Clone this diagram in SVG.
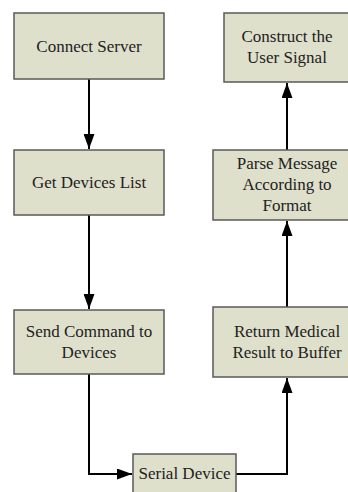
<svg xmlns="http://www.w3.org/2000/svg" width="348" height="492" viewBox="0 0 348 492">
<defs>
<style>
.box{fill:#dfe0cb;stroke:#5a5a5a;stroke-width:1.5}
.c{fill:none;stroke:#000;stroke-width:2}
</style>
<marker id="ah" markerWidth="15" markerHeight="11" refX="15" refY="5.5" orient="auto" markerUnits="userSpaceOnUse" viewBox="0 0 15 11">
<path d="M0,0 L15,5.5 L0,11 Z" fill="#000"/>
</marker>
</defs>
<rect width="348" height="492" fill="#fff"/>
<g id="connectors">
<path class="c" d="M89,79 V149" marker-end="url(#ah)"/>
<path class="c" d="M89,215 V309" marker-end="url(#ah)"/>
<path class="c" d="M89,374 V474 H132" marker-end="url(#ah)"/>
<path class="c" d="M236,474 H287 V378" marker-end="url(#ah)"/>
<path class="c" d="M287,307 V221" marker-end="url(#ah)"/>
<path class="c" d="M287,150 V83" marker-end="url(#ah)"/>
</g>
<g font-family="Liberation Serif, Times New Roman, Times, DejaVu Serif, serif" font-size="17" fill="#222" text-anchor="middle">
<g id="connect-server">
<rect class="box" x="14" y="13" width="150" height="66"/>
<text x="89" y="52">Connect Server</text>
</g>
<g id="get-devices-list">
<rect class="box" x="14" y="150" width="150" height="65"/>
<text x="89" y="188">Get Devices List</text>
</g>
<g id="send-command">
<rect class="box" x="14" y="310" width="150" height="64"/>
<text x="89" y="337">Send Command to</text>
<text x="89" y="358">Devices</text>
</g>
<g id="serial-device">
<rect class="box" x="133" y="454" width="103" height="50"/>
<text x="184.5" y="479">Serial Device</text>
</g>
<g id="return-medical">
<rect class="box" x="213" y="307" width="150" height="70"/>
<text x="287" y="337">Return Medical</text>
<text x="287" y="358">Result to Buffer</text>
</g>
<g id="parse-message">
<rect class="box" x="213" y="150" width="150" height="70"/>
<text x="287" y="169">Parse Message</text>
<text x="287" y="190">According to</text>
<text x="287" y="211">Format</text>
</g>
<g id="construct-signal">
<rect class="box" x="224" y="13" width="130" height="69"/>
<text x="287" y="42">Construct the</text>
<text x="287" y="63">User Signal</text>
</g>
</g>
</svg>
